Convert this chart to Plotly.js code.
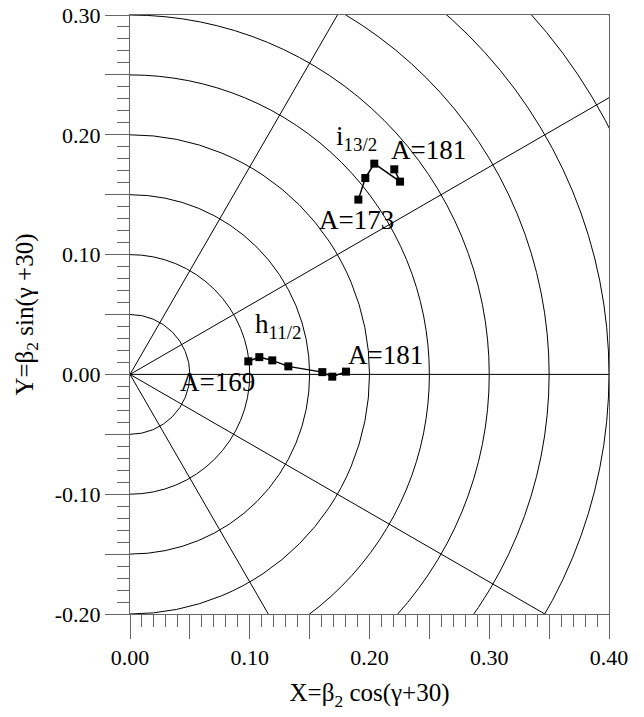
<!DOCTYPE html>
<html>
<head>
<meta charset="utf-8">
<script src="https://cdn.plot.ly/plotly-3.0.1.min.js"></script>
<style>html,body{margin:0;padding:0;background:#fff;}#chart{width:644px;height:717px;}</style>
</head>
<body>
<div id="chart"></div>
<script>
// h11/2 band, A = 169 ... 181
var hX = [0.0988, 0.1080, 0.1188, 0.1322, 0.1606, 0.1689, 0.1804];
var hY = [0.0109, 0.0144, 0.0117, 0.0067, 0.0019, -0.0019, 0.0023];
// i13/2 band, A = 173 ... 181
var iX = [0.1907, 0.1965, 0.2040, 0.2255, 0.2207];
var iY = [0.1459, 0.1639, 0.1759, 0.1609, 0.1712];

// polar grid
var radii = [0.05, 0.10, 0.15, 0.20, 0.25, 0.30, 0.35, 0.40, 0.45, 0.50];
var anglesDeg = [-60, -30, 0, 30, 60];

// axis ticks
var xTickVals = [0.00, 0.10, 0.20, 0.30, 0.40];
var xTickText = ["0.00", "0.10", "0.20", "0.30", "0.40"];
var yTickVals = [-0.20, -0.10, 0.00, 0.10, 0.20, 0.30];
var yTickText = ["-0.20", "-0.10", "0.00", "0.10", "0.20", "0.30"];

var serif = "Liberation Serif, Times New Roman, serif";
var axisCol = "#666666";

var shapes = [];
radii.forEach(function (r) {
  shapes.push({type: "circle", xref: "x", yref: "y", x0: -r, y0: -r, x1: r, y1: r,
    line: {color: "#000", width: 1}, layer: "below"});
});
anglesDeg.forEach(function (a) {
  var t = a * Math.PI / 180, L = 1.0;
  shapes.push({type: "line", xref: "x", yref: "y", x0: 0, y0: 0,
    x1: L * Math.cos(t), y1: L * Math.sin(t),
    line: {color: "#000", width: 1}, layer: "below"});
});

var traces = [
  {x: [], y: [], xaxis: "x2", yaxis: "y2", type: "scatter", mode: "markers", hoverinfo: "none"},
  {x: hX, y: hY, mode: "lines+markers", type: "scatter",
   line: {color: "#000", width: 1.5}, marker: {symbol: "square", size: 8, color: "#000"},
   cliponaxis: false, hoverinfo: "none"},
  {x: iX, y: iY, mode: "lines+markers", type: "scatter",
   line: {color: "#000", width: 1.5}, marker: {symbol: "square", size: 8, color: "#000"},
   cliponaxis: false, hoverinfo: "none"}
];

var annFont = {family: serif, size: 27, color: "#000"};
var annotations = [
  {text: "i<sub>13/2</sub>", x: 0.1705, y: 0.197, xanchor: "left", yanchor: "middle"},
  {text: "A=181", x: 0.2163, y: 0.187, xanchor: "left", yanchor: "middle"},
  {text: "A=173", x: 0.156, y: 0.129, xanchor: "left", yanchor: "middle"},
  {text: "h<sub>11/2</sub>", x: 0.1027, y: 0.040, xanchor: "left", yanchor: "middle"},
  {text: "A=181", x: 0.180, y: 0.016, xanchor: "left", yanchor: "middle"},
  {text: "A=169", x: 0.040, y: -0.0067, xanchor: "left", yanchor: "middle"}
].map(function (a) {
  a.xref = "x"; a.yref = "y"; a.showarrow = false; a.font = annFont; return a;
});

var tickFont = {family: serif, size: 22, color: "#000"};
var titleFont = {family: serif, size: 25, color: "#000"};

var layout = {
  width: 644, height: 717,
  margin: {l: 130, r: 35, t: 15, b: 103},
  paper_bgcolor: "#fff", plot_bgcolor: "#fff",
  showlegend: false,
  shapes: shapes,
  annotations: annotations,
  xaxis: {
    range: [0, 0.4], tickmode: "array", tickvals: xTickVals, ticktext: xTickText,
    ticks: "outside", ticklen: 24, tickwidth: 1, tickcolor: axisCol,
    showline: true, linecolor: axisCol, linewidth: 1, mirror: true,
    showgrid: false, zeroline: false, tickfont: tickFont,
    minor: {dtick: 0.05, tick0: 0, ticks: "outside", ticklen: 24, tickcolor: axisCol, tickwidth: 1, showgrid: false},
    title: {text: "X=β<sub>2</sub> cos(γ+30)", font: titleFont, standoff: 14}
  },
  yaxis: {
    range: [-0.2, 0.3], tickmode: "array", tickvals: yTickVals, ticktext: yTickText,
    ticks: "outside", ticklen: 24, tickwidth: 1, tickcolor: axisCol,
    showline: true, linecolor: axisCol, linewidth: 1, mirror: true,
    showgrid: false, zeroline: false, tickfont: tickFont,
    minor: {dtick: 0.05, tick0: 0, ticks: "outside", ticklen: 24, tickcolor: axisCol, tickwidth: 1, showgrid: false},
    title: {text: "Y=β<sub>2</sub> sin(γ +30)", font: titleFont, standoff: 14}
  },
  xaxis2: {
    overlaying: "x", anchor: "y2", side: "bottom", range: [0, 0.4],
    dtick: 0.01, tick0: 0, ticks: "outside", ticklen: 12, tickwidth: 1, tickcolor: axisCol,
    showticklabels: false, showgrid: false, zeroline: false, showline: false
  },
  yaxis2: {
    overlaying: "y", anchor: "x2", side: "left", range: [-0.2, 0.3],
    dtick: 0.01, tick0: 0, ticks: "outside", ticklen: 12, tickwidth: 1, tickcolor: axisCol,
    showticklabels: false, showgrid: false, zeroline: false, showline: false
  }
};

Plotly.newPlot("chart", traces, layout, {staticPlot: true, displayModeBar: false});
</script>
</body>
</html>
